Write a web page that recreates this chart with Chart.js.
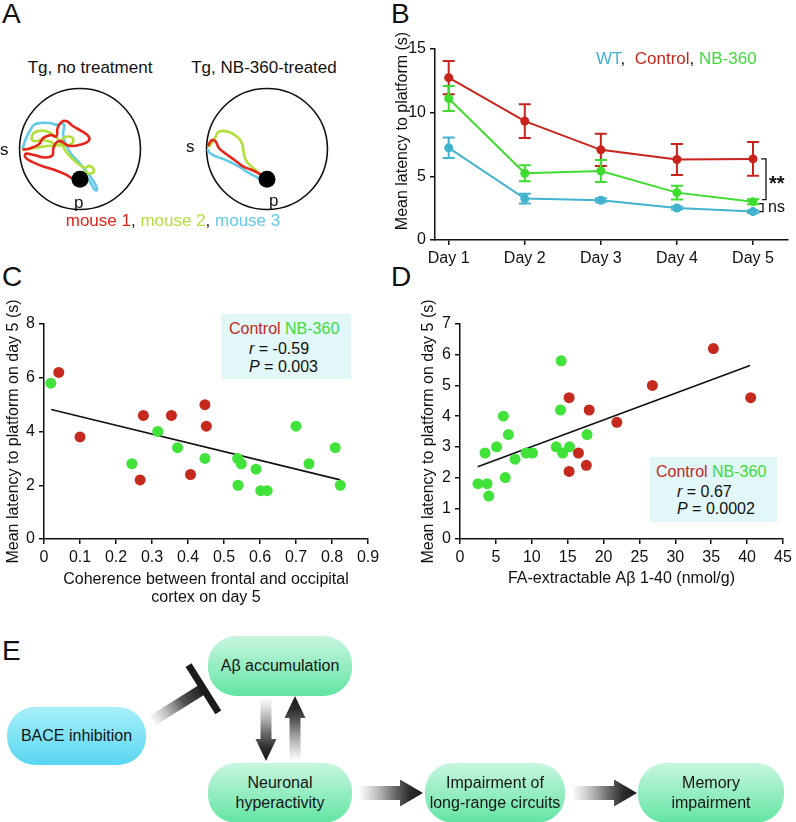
<!DOCTYPE html>
<html>
<head>
<meta charset="utf-8">
<script src="https://cdn.jsdelivr.net/npm/chart.js@4.4.1/dist/chart.umd.min.js"></script>
<style>
  body{margin:0;background:#fff;}
  #fig{position:relative;width:796px;height:822px;overflow:hidden;font-family:'Liberation Sans',Arial,sans-serif;color:#111;}
  #fig canvas{position:absolute;}
  .t{position:absolute;white-space:nowrap;font-size:16px;line-height:20px;}
  .letter{position:absolute;font-size:28px;line-height:28px;}
  .box{position:absolute;border-radius:28px;display:flex;align-items:center;justify-content:center;text-align:center;font-size:16px;line-height:20px;color:#151515;}
  .green{background:linear-gradient(#c8f6df,#62e4a3);}
  .cyan{background:linear-gradient(#a8f0fa,#58d6f0);}
  .legbox{position:absolute;background:#e2f7f7;}
  .red{color:#c4271d;} .grn{color:#3ddc3a;}
</style>
</head>
<body>
<div id="fig">
  <!-- panel letters -->
  <div class="letter" style="left:2px;top:0px">A</div>
  <div class="letter" style="left:391px;top:0px">B</div>
  <div class="letter" style="left:2px;top:263px">C</div>
  <div class="letter" style="left:391px;top:263px">D</div>
  <div class="letter" style="left:2px;top:637px">E</div>

  <!-- A -->
  <div class="t" style="left:0;width:180px;text-align:center;top:58px;font-size:17px">Tg, no treatment</div>
  <div class="t" style="left:174px;width:180px;text-align:center;top:58px;font-size:17px">Tg, NB-360-treated</div>
  <canvas id="poolA1" width="150" height="150" style="left:5px;top:74px"></canvas>
  <canvas id="poolA2" width="150" height="150" style="left:192px;top:74px"></canvas>
  <div class="t" style="left:0px;top:140px;font-size:17px">s</div>
  <div class="t" style="left:74px;top:193px;font-size:17px">p</div>
  <div class="t" style="left:186px;top:137px;font-size:17px">s</div>
  <div class="t" style="left:269px;top:191px;font-size:17px">p</div>
  <div class="t" style="left:0;width:346px;text-align:center;top:211px;font-size:17px">
    <span style="color:#e5241b">mouse 1</span>, <span style="color:#b2e03a">mouse 2</span>, <span style="color:#62c9e8">mouse 3</span>
  </div>

  <!-- B -->
  <canvas id="chartB" width="408" height="280" style="left:388px;top:0px"></canvas>
  <div class="t" style="left:596px;top:49px;font-size:17px">
    <span style="color:#3fb2cf">WT</span>, &nbsp;<span class="red">Control</span>, <span class="grn">NB-360</span>
  </div>

  <!-- C -->
  <canvas id="chartC" width="400" height="316" style="left:0px;top:290px"></canvas>
  <div class="legbox" style="left:221px;top:314px;width:130px;height:65px"></div>
  <div class="t" style="left:229px;top:319px"><span class="red">Control</span> <span class="grn">NB-360</span></div>
  <div class="t" style="left:249px;top:339px"><i>r</i> = -0.59</div>
  <div class="t" style="left:249px;top:357px"><i>P</i> = 0.003</div>

  <!-- D -->
  <canvas id="chartD" width="396" height="316" style="left:400px;top:290px"></canvas>
  <div class="legbox" style="left:650px;top:457px;width:127px;height:65px"></div>
  <div class="t" style="left:656px;top:462px"><span class="red">Control</span> <span class="grn">NB-360</span></div>
  <div class="t" style="left:677px;top:482px"><i>r</i> = 0.67</div>
  <div class="t" style="left:677px;top:499px"><i>P</i> = 0.0002</div>

  <!-- E -->
  <canvas id="arrowsE" width="796" height="192" style="left:0px;top:630px"></canvas>
  <div class="box green" style="left:208px;top:636px;width:144px;height:60px">Aβ accumulation</div>
  <div class="box cyan" style="left:7px;top:707px;width:139px;height:58px">BACE inhibition</div>
  <div class="box green" style="left:208px;top:763px;width:144px;height:60px">Neuronal<br>hyperactivity</div>
  <div class="box green" style="left:425px;top:763px;width:140px;height:60px">Impairment of<br>long-range circuits</div>
  <div class="box green" style="left:638px;top:763px;width:146px;height:60px">Memory<br>impairment</div>
</div>

<script>
// ---- DATA ----
// Panel A: swim paths in pool units (pool radius = 1, platform at 0,-0.5)
const noTreatMouse1 = [[-0.95,-0.01],[-0.83,0.01],[-0.68,0.08],[-0.61,0.18],[-0.49,0.23],[-0.39,0.21],[-0.37,0.35],[-0.30,0.45],[-0.22,0.46],[-0.12,0.38],[0.02,0.30],[0.14,0.21],[0.14,0.13],[0.00,0.07],[-0.15,0.05],[-0.24,0.08],[-0.32,0.13],[-0.39,0.11],[-0.44,0.01],[-0.46,-0.11],[-0.59,-0.14],[-0.76,-0.10],[-0.90,-0.08],[-0.90,-0.14],[-0.80,-0.21],[-0.63,-0.28],[-0.44,-0.34],[-0.24,-0.42],[-0.10,-0.50],[-0.02,-0.50]];
const noTreatMouse2 = [[-0.95,-0.01],[-0.83,0.00],[-0.68,0.03],[-0.54,0.05],[-0.41,0.06],[-0.34,0.08],[-0.29,0.16],[-0.24,0.20],[-0.15,0.20],[-0.11,0.15],[-0.15,0.08],[-0.27,0.06],[-0.39,0.07],[-0.49,0.12],[-0.63,0.15],[-0.76,0.13],[-0.80,0.18],[-0.77,0.26],[-0.68,0.30],[-0.54,0.29],[-0.41,0.21],[-0.32,0.11],[-0.22,-0.06],[-0.07,-0.21],[0.07,-0.31],[0.16,-0.28],[0.23,-0.34],[0.20,-0.40],[0.12,-0.40],[0.07,-0.37],[0.05,-0.47]];
const noTreatMouse3 = [[-0.95,0.00],[-0.90,0.16],[-0.83,0.30],[-0.76,0.40],[-0.66,0.43],[-0.51,0.43],[-0.37,0.40],[-0.29,0.42],[-0.26,0.38],[-0.28,0.25],[-0.23,0.06],[-0.14,-0.09],[-0.01,-0.23],[0.11,-0.38],[0.20,-0.50],[0.27,-0.62],[0.28,-0.68],[0.24,-0.67],[0.20,-0.60],[0.12,-0.49],[0.05,-0.48]];
const treatedMouse1 = [[-0.97,0.05],[-0.94,0.12],[-0.89,0.15],[-0.84,0.11],[-0.80,0.02],[-0.72,-0.05],[-0.61,-0.13],[-0.50,-0.21],[-0.39,-0.29],[-0.27,-0.34],[-0.16,-0.39],[-0.07,-0.45],[-0.01,-0.49]];
const treatedMouse2 = [[-0.97,0.03],[-0.90,0.12],[-0.85,0.20],[-0.82,0.27],[-0.74,0.30],[-0.63,0.28],[-0.53,0.23],[-0.45,0.16],[-0.41,0.08],[-0.39,-0.03],[-0.36,-0.16],[-0.29,-0.26],[-0.20,-0.34],[-0.12,-0.41],[-0.06,-0.47]];
const treatedMouse3 = [[-0.99,0.00],[-0.93,-0.08],[-0.82,-0.13],[-0.69,-0.18],[-0.58,-0.23],[-0.45,-0.30],[-0.33,-0.38],[-0.20,-0.45],[-0.09,-0.51]];
const platformPos = [[0,-0.5]];

// Panel B: mean latency +- sem per day
const dayTicks = [1,2,3,4,5];
const wtLatency = [7.24,3.25,3.12,2.51,2.23];
const wtSem = [0.8,0.38,0.15,0.12,0.1];
const controlLatency = [12.75,9.34,7.08,6.32,6.37];
const controlSem = [1.31,1.32,1.27,1.22,1.32];
const nbLatency = [11.11,5.24,5.42,3.72,3.01];
const nbSem = [0.98,0.63,0.86,0.54,0.2];
const latencyTicks = [0,5,10,15];

// Panel C: coherence vs latency
const cohControl = [0.041,0.10,0.276,0.267,0.354,0.407,0.447,0.451];
const latCohControl = [6.2,3.8,4.6,2.2,4.6,2.4,5.0,4.2];
const cohNb = [0.019,0.244,0.316,0.371,0.447,0.538,0.548,0.539,0.589,0.602,0.62,0.70,0.736,0.809,0.823];
const latCohNb = [5.8,2.8,4.0,3.4,3.0,3.0,2.8,2.0,2.6,1.8,1.8,4.2,2.8,3.4,2.0];
const cohFitX = [0.02,0.823];
const cohFitY = [4.82,2.2];
const cohTicksX = [0,0.1,0.2,0.3,0.4,0.5,0.6,0.7,0.8,0.9];
const cohTicksY = [0,2,4,6,8];

// Panel D: Abeta vs latency
const abControl = [35.3,26.8,15.2,40.5,18.0,21.85,16.5,17.6,15.2];
const latAbControl = [6.2,5.0,4.6,4.6,4.2,3.8,2.8,2.4,2.2];
const abNb = [14.1,6.04,14.0,6.74,5.1,3.49,7.67,9.2,10.1,13.4,14.3,15.25,17.7,6.3,2.5,3.77,4.0];
const latAbNb = [5.8,4.0,4.2,3.4,3.0,2.8,2.6,2.8,2.8,3.0,2.8,3.0,3.4,2.0,1.8,1.8,1.4];
const abFitX = [2.46,40.4];
const abFitY = [2.35,5.65];
const abTicksX = [0,5,10,15,20,25,30,35,40,45];
const abTicksY = [0,1,2,3,4,5,6,7];

// ---- COLORS ----
const RED = '#c4271d', GREEN = '#3ddc3a', BLUE = '#3fb2cf', INK = '#111';

// ---- HELPERS ----
const zip = (xs, ys) => xs.map((x, i) => ({x, y: ys[i]}));
const pairs = arr => arr.map(p => ({x: p[0], y: p[1]}));

Chart.defaults.font.family = "'Liberation Sans', Arial, sans-serif";
Chart.defaults.font.size = 16;
Chart.defaults.color = INK;
Chart.defaults.animation = false;
Chart.defaults.responsive = false;
Chart.defaults.plugins.legend.display = false;
Chart.defaults.plugins.tooltip.enabled = false;

function axis(min, max, ticks, fmt, fit, title){
  return {
    type:'linear', min, max,
    afterBuildTicks: s => { s.ticks = ticks.map(v => ({value:v})); },
    afterFit: fit,
    border:{display:true,color:INK,width:1.5},
    grid:{display:true,drawOnChartArea:false,drawTicks:true,tickLength:5,color:INK,lineWidth:1.5},
    ticks:{color:INK,padding:4,autoSkip:false,maxRotation:0,callback:fmt},
    title: title || {display:false}
  };
}

// ---- A: POOLS ----
const poolOutline = {
  id:'poolOutline',
  beforeDatasetsDraw(c){
    const {ctx, scales:{x, y}} = c;
    const cx = x.getPixelForValue(0), cy = y.getPixelForValue(0);
    const r = x.getPixelForValue(1) - cx;
    ctx.save();
    ctx.beginPath();
    ctx.arc(cx, cy, r, 0, Math.PI*2);
    ctx.lineWidth = 1.6;
    ctx.strokeStyle = INK;
    ctx.stroke();
    ctx.restore();
  }
};

function makePool(id, paths){
  const colors = ['#e5241b','#b2e03a','#62c9e8'];
  const ds = [{data:pairs(platformPos),pointRadius:8.5,backgroundColor:'#000',borderWidth:0}];
  paths.forEach((p, i) => ds.push({
    data:pairs(p), showLine:true, tension:0.45, pointRadius:0,
    borderColor:colors[i], borderWidth:2.6
  }));
  // draw red last (on top) like the reference
  const order = [ds[0], ds[1], ds[2], ds[3]];
  new Chart(document.getElementById(id), {
    type:'scatter',
    data:{datasets:order},
    options:{
      devicePixelRatio:1,
      layout:{padding:0},
      scales:{
        x:{type:'linear',min:-1.1,max:1.1,display:false},
        y:{type:'linear',min:-1.1,max:1.1,display:false}
      }
    },
    plugins:[poolOutline]
  });
}
makePool('poolA1', [noTreatMouse1, noTreatMouse2, noTreatMouse3]);
makePool('poolA2', [treatedMouse1, treatedMouse2, treatedMouse3]);

// ---- B: LATENCY ----
const errorBars = {
  id:'errorBars',
  beforeDatasetsDraw(c){
    const {ctx, scales:{y}} = c;
    ctx.save();
    c.data.datasets.forEach((ds, i) => {
      if(!ds.sem) return;
      const meta = c.getDatasetMeta(i);
      ctx.strokeStyle = ds.borderColor;
      ctx.lineWidth = 2;
      meta.data.forEach((pt, j) => {
        const v = ds.data[j].y, e = ds.sem[j];
        const t = y.getPixelForValue(v + e), b = y.getPixelForValue(v - e);
        ctx.beginPath();
        ctx.moveTo(pt.x, t); ctx.lineTo(pt.x, b);
        ctx.moveTo(pt.x - 6, t); ctx.lineTo(pt.x + 6, t);
        ctx.moveTo(pt.x - 6, b); ctx.lineTo(pt.x + 6, b);
        ctx.stroke();
      });
    });
    ctx.restore();
  }
};

const bExtras = {
  id:'bExtras',
  afterDraw(c){
    const {ctx, scales:{x, y}} = c;
    ctx.save();
    // y title
    ctx.translate(15, 131);
    ctx.rotate(-Math.PI/2);
    ctx.font = "16px 'Liberation Sans', Arial, sans-serif";
    ctx.fillStyle = INK;
    ctx.textAlign = 'center';
    ctx.textBaseline = 'middle';
    ctx.fillText('Mean latency to platform (s)', 0, 0);
    ctx.restore();

    // significance brackets at day 5
    const last = dayTicks.length - 1;
    const x5 = x.getPixelForValue(dayTicks[last]);
    const yC = y.getPixelForValue(controlLatency[last]);
    const yN = y.getPixelForValue(nbLatency[last]);
    const yW = y.getPixelForValue(wtLatency[last]);
    ctx.save();
    ctx.strokeStyle = INK;
    ctx.lineWidth = 1.3;
    ctx.beginPath();
    ctx.moveTo(x5 + 8, yC); ctx.lineTo(x5 + 13, yC); ctx.lineTo(x5 + 13, yN - 2); ctx.lineTo(x5 + 9, yN - 2);
    ctx.moveTo(x5 + 6, yN + 2); ctx.lineTo(x5 + 10, yN + 2); ctx.lineTo(x5 + 10, yW); ctx.lineTo(x5 + 6, yW);
    ctx.stroke();
    ctx.fillStyle = INK;
    ctx.textBaseline = 'middle';
    ctx.font = "bold 20px 'Liberation Sans', Arial, sans-serif";
    ctx.fillText('**', x5 + 16, (yC + yN) / 2 + 4);
    ctx.font = "16px 'Liberation Sans', Arial, sans-serif";
    ctx.fillText('ns', x5 + 15, (yN + yW) / 2 + 1);
    ctx.restore();
  }
};

function lineSet(ys, sem, color){
  return {data:zip(dayTicks, ys), sem, showLine:true, borderColor:color, backgroundColor:color,
          borderWidth:2, pointRadius:4.5, pointBorderWidth:0};
}

new Chart(document.getElementById('chartB'), {
  type:'scatter',
  data:{datasets:[
    lineSet(controlLatency, controlSem, '#c8231c'),
    lineSet(nbLatency, nbSem, '#3fdc30'),
    lineSet(wtLatency, wtSem, '#41b3cf')
  ]},
  options:{
    devicePixelRatio:1,
    layout:{padding:{top:49,right:8,left:0,bottom:0}},
    scales:{
      x: axis(0.82, 5.46, dayTicks, v => 'Day ' + v, s => { s.height = 40; }),
      y: axis(0, 15, latencyTicks, v => String(v), s => { s.width = 47; })
    }
  },
  plugins:[errorBars, bExtras]
});

// ---- C & D: SCATTERS ----
function scatterSets(xr, yr, xg, yg, fx, fy){
  return [
    {data:zip(xr, yr), pointRadius:5.5, backgroundColor:'#c6291d', borderWidth:0},
    {data:zip(xg, yg), pointRadius:5.5, backgroundColor:'#41e23a', borderWidth:0},
    {data:zip(fx, fy), showLine:true, pointRadius:0, borderColor:INK, borderWidth:1.6}
  ];
}

new Chart(document.getElementById('chartC'), {
  type:'scatter',
  data:{datasets:scatterSets(cohControl, latCohControl, cohNb, latCohNb, cohFitX, cohFitY)},
  options:{
    devicePixelRatio:1,
    layout:{padding:{top:34,right:32,left:0,bottom:0}},
    scales:{
      x: axis(0, 0.9, cohTicksX, v => v === 0 ? '0' : v.toFixed(1), s => { s.height = 67; },
        {display:true, text:['Coherence between frontal and occipital','cortex on day 5'],
         font:{size:16,lineHeight:1.1}, padding:{top:0,bottom:0}, color:INK}),
      y: axis(0, 8, cohTicksY, v => String(v), s => { s.width = 44; },
        {display:true, text:'Mean latency to platform on day 5 (s)', font:{size:16}, padding:{top:4,bottom:0}, color:INK})
    }
  }
});

new Chart(document.getElementById('chartD'), {
  type:'scatter',
  data:{datasets:scatterSets(abControl, latAbControl, abNb, latAbNb, abFitX, abFitY)},
  options:{
    devicePixelRatio:1,
    layout:{padding:{top:34,right:13,left:0,bottom:0}},
    scales:{
      x: axis(0, 45, abTicksX, v => String(v), s => { s.height = 67; },
        {display:true, text:'FA-extractable Aβ 1-40 (nmol/g)', font:{size:16}, padding:{top:0,bottom:18}, color:INK}),
      y: axis(0, 7, abTicksY, v => String(v), s => { s.width = 60; },
        {display:true, text:'Mean latency to platform on day 5 (s)', font:{size:16}, padding:{top:19,bottom:0}, color:INK})
    }
  }
});

// ---- E: ARROWS ----
(function drawArrows(){
  const ctx = document.getElementById('arrowsE').getContext('2d');
  const oy = 630;
  function arrow(x1, y1, x2, y2, shaftW, headW, headL){
    const dx = x2 - x1, dy = y2 - y1, len = Math.hypot(dx, dy);
    ctx.save();
    ctx.translate(x1, y1 - oy);
    ctx.rotate(Math.atan2(dy, dx));
    const g = ctx.createLinearGradient(0, 0, len, 0);
    g.addColorStop(0, 'rgba(150,150,150,0.05)');
    g.addColorStop(0.55, '#6a6a6a');
    g.addColorStop(0.8, '#2a2a2a');
    g.addColorStop(1, '#1a1a1a');
    ctx.fillStyle = g;
    ctx.beginPath();
    ctx.moveTo(0, -shaftW/2);
    ctx.lineTo(len - headL, -shaftW/2);
    ctx.lineTo(len - headL, -headW/2);
    ctx.lineTo(len, 0);
    ctx.lineTo(len - headL, headW/2);
    ctx.lineTo(len - headL, shaftW/2);
    ctx.lineTo(0, shaftW/2);
    ctx.closePath();
    ctx.fill();
    ctx.restore();
  }
  // inhibition: BACE -| Abeta
  ctx.save();
  const sx = 152, sy = 721, ex = 203, ey = 689;
  const len = Math.hypot(ex - sx, ey - sy);
  ctx.translate(sx, sy - oy);
  ctx.rotate(Math.atan2(ey - sy, ex - sx));
  const g = ctx.createLinearGradient(0, 0, len, 0);
  g.addColorStop(0, 'rgba(150,150,150,0.05)');
  g.addColorStop(0.6, '#555');
  g.addColorStop(1, '#1c1c1c');
  ctx.fillStyle = g;
  ctx.fillRect(0, -5.5, len, 11);
  ctx.fillStyle = '#1c1c1c';
  ctx.fillRect(len - 3, -28, 7, 56);
  ctx.restore();

  arrow(266, 699, 266, 761, 11, 21, 22);
  arrow(295, 760, 295, 696, 11, 21, 22);
  arrow(360, 793, 423, 793, 14, 27, 23);
  arrow(573, 793, 637, 793, 14, 27, 23);
})();
</script>
</body>
</html>
